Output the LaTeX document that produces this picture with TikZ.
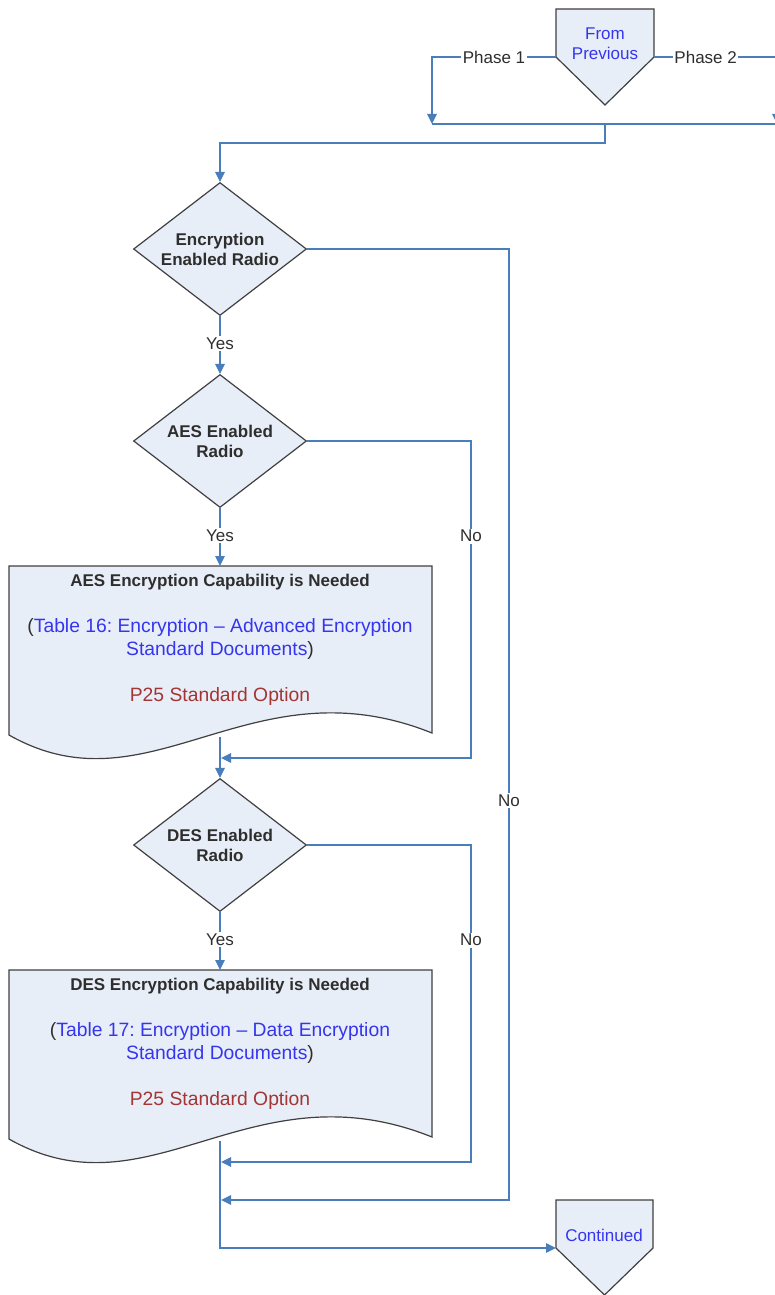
\documentclass[tikz,border=0pt]{standalone}
\usepackage{fontspec}
\setmainfont{Liberation Sans}
\usetikzlibrary{shapes.geometric,arrows.meta}
\definecolor{lineblue}{HTML}{4A7EBB}
\definecolor{shapefill}{HTML}{E8EEF7}
\definecolor{shapedraw}{HTML}{404040}
\definecolor{linkblue}{HTML}{3535F0}
\definecolor{optred}{HTML}{A33535}
\definecolor{labelgray}{HTML}{2E2E2E}
\frenchspacing
\begin{document}
\begin{tikzpicture}[x=1pt,y=-1pt,
  conn/.style={draw=lineblue,line width=1.5pt,-{Triangle[length=10pt,width=9.5pt]}},
  plainconn/.style={draw=lineblue,line width=1.5pt},
  decision/.style={diamond,draw=shapedraw,fill=shapefill,line width=1.2pt,inner sep=0pt,
    minimum width=173pt,minimum height=133pt,aspect=1.3,align=center,
    font=\fontsize{17}{20}\selectfont\bfseries,text=labelgray},
  shapeline/.style={draw=shapedraw,fill=shapefill,line width=1.2pt,line join=miter},
  lbl/.style={fill=white,inner sep=1.5pt,font=\fontsize{17}{20}\selectfont,text=labelgray},
  doctext/.style={align=center,font=\fontsize{19.3}{23}\selectfont,text=labelgray,inner sep=0pt},
  pentext/.style={align=center,font=\fontsize{17}{20}\selectfont,text=linkblue,inner sep=0pt}]

\clip (0,0) rectangle (775,1295);
\fill[white] (0,0) rectangle (775,1295);

% off-page connectors
\path[shapeline] (556,9) -- (654,9) -- (654,57) -- (605,105) -- (556,57) -- cycle;
\node[pentext] (prev) at (605,43.5) {From\\Previous};
\coordinate (prevW) at (556,57);
\coordinate (prevE) at (654,57);

\path[shapeline] (556,1200) -- (653,1200) -- (653,1248) -- (604.5,1295) -- (556,1248) -- cycle;
\node[pentext] (cont) at (604,1235) {Continued};
\coordinate (contW) at (556,1248);

% decisions
\node[decision] (d1) at (220,249) {Encryption\\Enabled Radio};
\node[decision] (d2) at (220,441) {AES Enabled\\Radio};
\node[decision] (d3) at (220,845) {DES Enabled\\Radio};

% documents
\path[shapeline] (9,566) -- (432,566) -- (432,733) .. controls (250,660) and (150,815) .. (9,735) -- cycle;
\node[doctext] (doc1) at (220,640) {\textbf{\fontsize{17}{23}\selectfont AES Encryption Capability is Needed}\\[23pt]%
(\textcolor{linkblue}{Table 16: Encryption – Advanced Encryption}\\\textcolor{linkblue}{Standard Documents})\\[23pt]%
\textcolor{optred}{P25 Standard Option}};
\coordinate (doc1t) at (220,566);
\coordinate (doc1b) at (220,737);

\path[shapeline] (9,970) -- (432,970) -- (432,1137) .. controls (250,1064) and (150,1219) .. (9,1139) -- cycle;
\node[doctext] (doc2) at (220,1043.5) {\textbf{\fontsize{17}{23}\selectfont DES Encryption Capability is Needed}\\[23pt]%
(\textcolor{linkblue}{Table 17: Encryption – Data Encryption}\\\textcolor{linkblue}{Standard Documents})\\[23pt]%
\textcolor{optred}{P25 Standard Option}};
\coordinate (doc2t) at (220,970);
\coordinate (doc2b) at (220,1141);

% merge points
\coordinate (m1) at (432,124);
\coordinate (m2) at (777,124);
\coordinate (mj) at (605,124);

% connectors
\draw[conn] (prevW) -- node[lbl]{Phase 1} (prevW -| m1) -- (m1);
\draw[conn] (prevE) -- node[lbl,pos=0.42]{Phase 2} (prevE -| m2) -- (m2);
\draw[plainconn] (m1) -- (m2);
\draw[conn] (mj) -- (605,143) -- (220,143) -- (d1.north);

\draw[conn] (d1.south) -- node[lbl,pos=0.47]{Yes} (d2.north);
\draw[conn] (d2.south) -- node[lbl,pos=0.48]{Yes} (doc1t);
\draw[conn] (doc1b) -- (d3.north);
\draw[conn] (d3.south) -- node[lbl,pos=0.48]{Yes} (doc2t);
\draw[conn] (doc2b) -- (220,1248) -- (contW);

\draw[conn] (d2.east) -- (471,441) -- node[lbl,pos=0.3]{No} (471,758) -- (221,758);
\draw[conn] (d3.east) -- (471,845) -- node[lbl,pos=0.3]{No} (471,1162) -- (221,1162);
\draw[conn] (d1.east) -- (509,249) -- node[lbl,pos=0.58]{No} (509,1200) -- (221,1200);
\end{tikzpicture}
\end{document}
